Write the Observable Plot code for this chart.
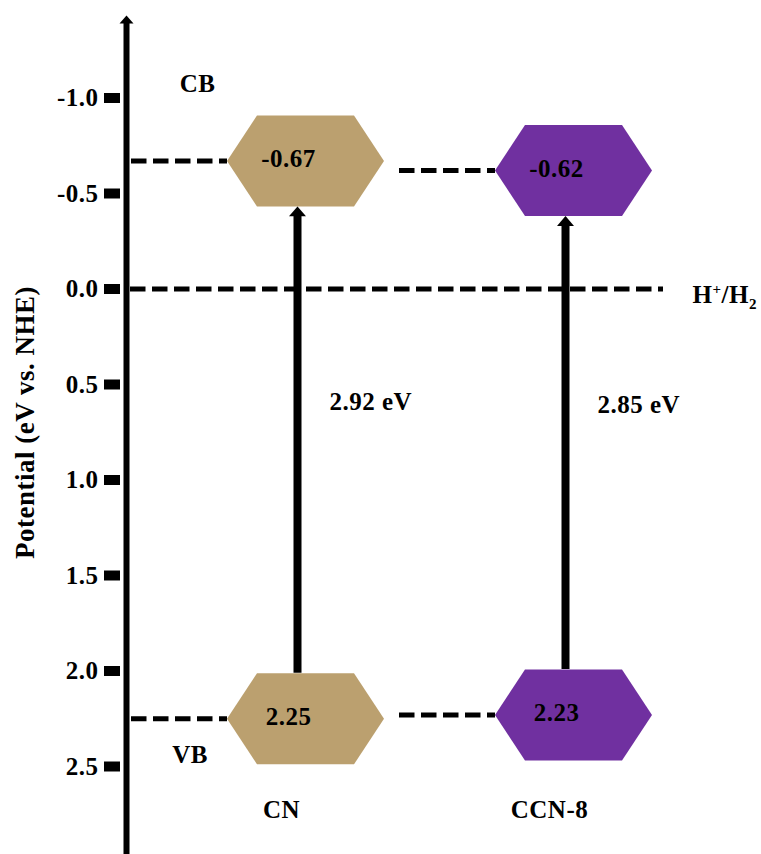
<!DOCTYPE html>
<html>
<head>
<meta charset="utf-8">
<script src="https://cdn.jsdelivr.net/npm/d3@7"></script>
<script src="https://cdn.jsdelivr.net/npm/@observablehq/plot@0.6"></script>
<style>
  body { margin: 0; background: #fff; }
  #chart svg text { letter-spacing: 0.5px; }
</style>
</head>
<body>
<div id="chart"></div>
<script>
// Band-edge potentials (eV vs. NHE) for each photocatalyst
const samples = ["CN", "CCN-8"];
const cbPotential = [-0.67, -0.62];
const vbPotential = [2.25, 2.23];
const sampleColors = ["#BBA06F", "#7030A0"];
const potentialTicks = [-1.0, -0.5, 0.0, 0.5, 1.0, 1.5, 2.0, 2.5];
const hydrogenLevel = [0.0];
const hydrogenLabel = "H+/H2";
const axisTitle = "Potential (eV vs. NHE)";
const cbName = ["CB"];
const vbName = ["VB"];

const bands = samples.flatMap((sample, i) => [
  {sample, band: "CB", potential: cbPotential[i]},
  {sample, band: "VB", potential: vbPotential[i]}
]);
const gaps = samples.map((sample, i) => ({sample, cb: cbPotential[i], vb: vbPotential[i]}));

// Flattened hexagon; the dot radius is its half-width
const hexagon = {
  draw(context, size) {
    const w = Math.sqrt(size / Math.PI);
    const h = w * 0.58, t = w * 0.618;
    context.moveTo(-w, 0);
    context.lineTo(-t, -h);
    context.lineTo(t, -h);
    context.lineTo(w, 0);
    context.lineTo(t, h);
    context.lineTo(-t, h);
    context.closePath();
  }
};

// Upward arrowhead with its tip at the origin
const arrowHead = {
  draw(context, size) {
    const w = Math.sqrt(size / Math.PI);
    context.moveTo(0, 0);
    context.lineTo(w, w * 1.15);
    context.lineTo(-w, w * 1.15);
    context.closePath();
  }
};

const hexHalfHeight = 78.5 * 0.58;
const serif = "'Liberation Serif', 'Times New Roman', serif";
const dash = "15.5,6.5";
const fs = 25;
const centered = {textAnchor: "middle", lineAnchor: "middle", fontSize: fs, fontWeight: "bold"};

const chart = Plot.plot({
  width: 761,
  height: 854,
  marginTop: 23,
  marginBottom: 0,
  marginLeft: 125,
  marginRight: 98,
  style: {fontFamily: serif, fontWeight: "bold", fontSize: `${fs}px`, color: "#000", background: "#fff"},
  x: {type: "point", domain: samples, range: [305, 573.5], padding: 0, axis: null},
  y: {domain: [-1, 2.5], range: [97.5, 766]},
  color: {domain: samples, range: sampleColors},
  marks: [
    // potential axis with arrow
    Plot.frame({anchor: "left", strokeWidth: 6, dx: 1, stroke: "#000"}),
    Plot.dot([0], {x: null, y: null, frameAnchor: "top-left", symbol: arrowHead, r: 7, fill: "#000", dx: 1, dy: -8}),
    Plot.axisY({
      ticks: potentialTicks,
      tickFormat: d => d.toFixed(1),
      tickSize: 16,
      tickPadding: 6,
      strokeWidth: 10,
      dx: -5,
      fontSize: fs,
      fontWeight: "bold",
      label: null
    }),
    Plot.text([axisTitle], {x: null, y: null, frameAnchor: "left", text: d => d, rotate: -90, dx: -100, dy: -16.5, ...centered, fontSize: 27}),

    // H+/H2 reference level
    Plot.ruleY(hydrogenLevel, {y: d => d, insetLeft: 5, stroke: "#000", strokeWidth: 5, strokeDasharray: dash}),
    Plot.text(hydrogenLevel, {y: d => d, frameAnchor: "right", text: () => hydrogenLabel, textAnchor: "start", lineAnchor: "middle", dx: 29, dy: 5.5, fontSize: fs, fontWeight: "bold"}),

    // leader lines to each band edge
    Plot.ruleY(bands, {y: "potential", x1: "sample", x2: "sample", insetLeft: -174, insetRight: 78, stroke: "#000", strokeWidth: 5, strokeDasharray: dash}),

    // band edges
    Plot.dot(bands, {x: "sample", y: "potential", symbol: hexagon, r: 78.5, fill: "sample", stroke: null}),
    Plot.text(bands, {x: "sample", y: "potential", text: d => d.potential.toFixed(2), dx: -17, dy: -2, ...centered}),

    // excitation arrows across the band gap
    Plot.ruleX(gaps, {x: "sample", y1: "cb", y2: "vb", insetTop: hexHalfHeight + 9, insetBottom: hexHalfHeight, stroke: "#000", strokeWidth: 8, dx: -8}),
    Plot.dot(gaps, {x: "sample", y: "cb", symbol: arrowHead, r: 8.5, fill: "#000", dx: -8, dy: hexHalfHeight}),
    Plot.text(gaps, {x: "sample", y: d => (d.cb + d.vb) / 2, text: d => `${(d.vb - d.cb).toFixed(2)} eV`, ...centered, textAnchor: "start", dx: 24, dy: -38}),

    // labels
    Plot.text(cbName, {x: null, y: null, frameAnchor: "top-left", text: d => d, dx: 72, dy: 60.5, ...centered}),
    Plot.text(vbName, {x: null, y: null, frameAnchor: "bottom-left", text: d => d, dx: 64.5, dy: -100, ...centered}),
    Plot.text(samples, {x: d => d, frameAnchor: "bottom", text: d => d, dx: -24, dy: -45, ...centered})
  ]
});

// superscript / subscript in the H+/H2 label
d3.select(chart).selectAll("text")
  .filter(function () { return this.textContent === hydrogenLabel; })
  .each(function () {
    const t = d3.select(this);
    t.text(null);
    t.append("tspan").text("H");
    t.append("tspan").attr("dy", -9).attr("font-size", 15).text("+");
    t.append("tspan").attr("dy", 9).text("/H");
    t.append("tspan").attr("dy", 6).attr("font-size", 15).text("2");
  });

document.getElementById("chart").appendChild(chart);
</script>
</body>
</html>
